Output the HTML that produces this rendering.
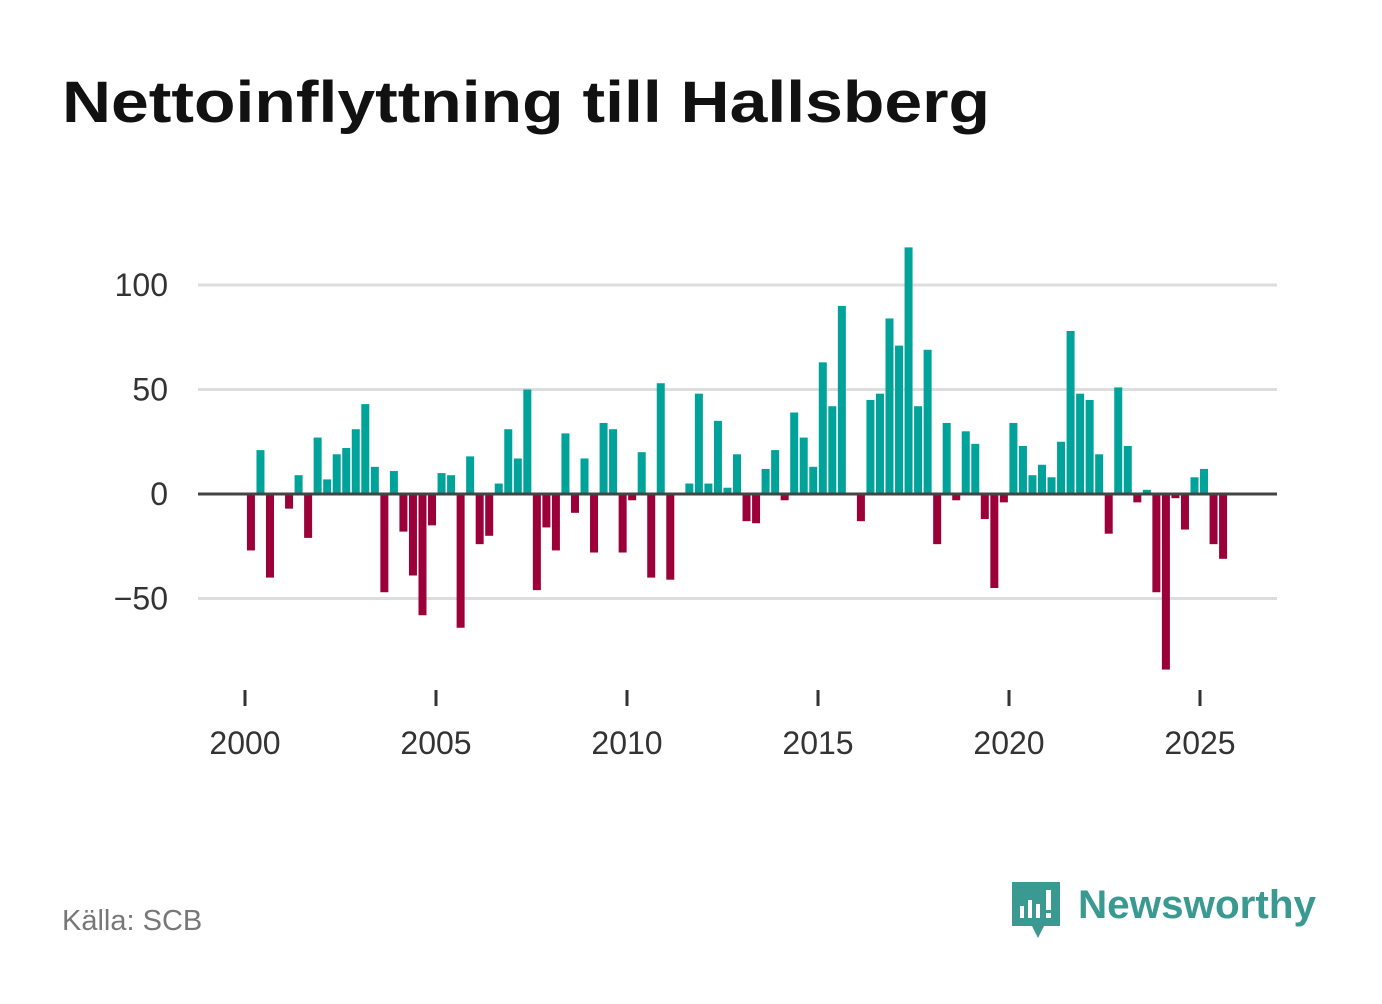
<!DOCTYPE html>
<html><head><meta charset="utf-8"><style>
body{margin:0;background:#fff;width:1382px;height:999px;overflow:hidden;font-family:"Liberation Sans",sans-serif}
</style></head><body>
<svg width="1382" height="999">
<text x="62" y="122" font-size="58" font-weight="bold" fill="#111" textLength="928" lengthAdjust="spacingAndGlyphs">Nettoinflyttning till Hallsberg</text>
<g id="grid"></g><g id="bars"></g><g id="axes"></g>
<text x="62" y="930" font-size="29" fill="#777">Källa: SCB</text>
<g>
<path d="M1012 882 h48 v44 h-16 l-6 12 l-6 -12 h-20 z" fill="#3a9a92"/>
<rect x="1020" y="906" width="4" height="12" fill="#fff"/><rect x="1028" y="900" width="4" height="18" fill="#fff"/><rect x="1036" y="904" width="4" height="14" fill="#fff"/><rect x="1046" y="890" width="5" height="20" fill="#fff"/><rect x="1046" y="913" width="5" height="5" fill="#fff"/>
<text x="1078" y="918" font-size="40" font-weight="bold" fill="#3a9a92" textLength="238" lengthAdjust="spacingAndGlyphs">Newsworthy</text>
</g>
</svg>
<script>
const values=[-27,21,-40,0,-7,9,-21,27,7,19,22,31,43,13,-47,11,-18,-39,-58,-15,10,9,-64,18,-24,-20,5,31,17,50,-46,-16,-27,29,-9,17,-28,34,31,-28,-3,20,-40,53,-41,0,5,48,5,35,3,19,-13,-14,12,21,-3,39,27,13,63,42,90,0,-13,45,48,84,71,118,42,69,-24,34,-3,30,24,-12,-45,-4,34,23,9,14,8,25,78,48,45,19,-19,51,23,-4,2,-47,-84,-2,-17,8,12,-24,-31];
const yTicks=[-50,0,50,100];
const xYears=[2000,2005,2010,2015,2020,2025];
const NS="http://www.w3.org/2000/svg";
const y=v=>494-v*2.09;
const x=t=>245+(t-2000)*38.2;
function mk(tag,attrs,parent){const e=document.createElementNS(NS,tag);for(const k in attrs)e.setAttribute(k,attrs[k]);document.getElementById(parent).appendChild(e);return e;}
yTicks.forEach(v=>{
 const l=mk('line',{x1:198,x2:1277,y1:y(v),y2:y(v),stroke:v===0?'#444':'#ddd','stroke-width':3},v===0?'axes':'grid');
 
 
 const t=mk('text',{x:168,y:y(v)+11,'font-size':32,fill:'#333','text-anchor':'end'},'grid');
 t.textContent=v<0?'\u2212'+Math.abs(v):v;
 
 
});
xYears.forEach(yr=>{
 const l=mk('line',{x1:x(yr),x2:x(yr),y1:690,y2:706,stroke:'#333','stroke-width':3},'axes');
 
 
 const t=mk('text',{x:x(yr),y:754,'font-size':32,fill:'#333','text-anchor':'middle'},'axes');
 t.textContent=yr;
 
 
});
values.forEach((v,i)=>{
 if(v===0)return;
 const cx=x(2000+(i+0.15)/4*0.998);
 const r=mk('rect',{x:cx+0.5,width:8,y:Math.min(y(v),y(0)),height:Math.abs(y(v)-y(0)),fill:v>0?'#00a39a':'#9b0038'},'bars');
 
 
});
</script>
</body></html>
